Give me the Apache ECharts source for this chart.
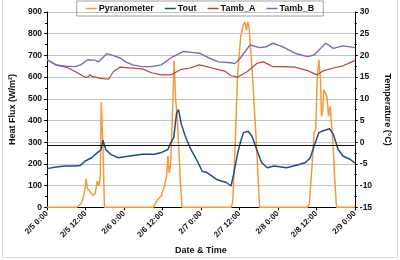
<!DOCTYPE html>
<html>
<head>
<meta charset="utf-8">
<title>Heat flux and temperature</title>
<script src="https://cdn.jsdelivr.net/npm/echarts@6/dist/echarts.min.js"></script>
<style>
  html, body { margin: 0; padding: 0; background: #fff; }
  #chart { width: 400px; height: 260px; }
</style>
</head>
<body>
<div id="chart"></div>
<script>
// hours since 2/5 0:00
var xTicks = ['2/5 0:00', '2/5 12:00', '2/6 0:00', '2/6 12:00', '2/7 0:00', '2/7 12:00', '2/8 0:00', '2/8 12:00', '2/9 0:00'];

// Pyranometer (W/m2)
var pyrHours = [0, 9.3, 10.5, 11.2, 11.9, 12.2, 12.6, 13.2, 14.2, 15.0, 15.65, 16.2, 16.6, 16.9, 17.4, 17.9,
  33.1, 34.6, 35.6, 36.6, 37.3, 37.7, 38.1, 38.5, 39.1, 39.6, 40.1, 40.6, 41.1, 41.6, 42.1,
  57.4, 57.9, 58.7, 59.4, 60.4, 61.2, 61.7, 62.2, 62.6, 63.0, 63.9, 64.6, 65.3, 66.3,
  81.2, 81.8, 82.8, 83.3, 83.8, 84.3, 84.8, 85.3, 85.6, 86.0, 86.3, 86.8, 87.3, 87.8, 88.3, 88.8, 89.3, 89.8, 90.3, 96];
var pyrValues = [0, 0, 15, 37, 90, 132, 85, 75, 55, 62, 121, 98, 144, 485, 297, 0,
  0, 37, 52, 98, 144, 236, 159, 190, 419, 675, 496, 419, 266, 113, 0,
  0, 23, 298, 603, 787, 840, 855, 815, 855, 830, 649, 470, 297, 0,
  0, 14, 220, 344, 358, 603, 680, 588, 419, 450, 542, 550, 511, 419, 465, 373, 266, 113, 0, 0];

// Tout (deg C)
var toutHours = [0, 2.8, 5.8, 8.8, 10.3, 11.8, 13.9, 15.7, 16.8, 17.4, 18.3, 19.8, 22.2, 25.8, 29.7, 33.5, 35.6, 37.7, 38.6, 39.5, 40.4, 41.0, 41.9, 43.1, 44.6, 46.9, 48.4, 49.9, 52.9, 55.9, 57.4, 58.3, 59.5, 60.4, 61.3, 62.7, 63.9, 65.4, 66.9, 68.7, 70.8, 74.7, 78.9, 80.6, 82.1, 83.3, 84.8, 85.7, 88.1, 89.3, 90.8, 92.3, 94.6, 96];
var toutValues = [-6.1, -5.75, -5.5, -5.5, -5.4, -4.4, -3.6, -2.4, -1.8, 0.45, -1.7, -2.8, -3.6, -3.2, -2.8, -2.8, -2.4, -1.7, -0.1, 1.0, 6.7, 7.5, 4.1, 1.4, -1.3, -4.4, -6.7, -7.0, -8.6, -9.3, -10.1, -7.0, -2.4, 0.2, 2.2, 2.5, 1.4, -1.7, -4.7, -5.9, -5.5, -5.9, -5.1, -4.7, -3.6, -0.9, 2.2, 2.5, 3.1, 1.8, -1.7, -3.2, -4.0, -4.8];

// Tamb_A (deg C)
var tambAHours = [0, 2.8, 6.7, 9.7, 11.8, 12.9, 13.3, 14.2, 16.8, 19.2, 20.7, 22.8, 25.8, 29.7, 32.6, 35.6, 38.6, 41.6, 44.6, 47.5, 51.5, 55.6, 57.4, 59.5, 62.5, 65.5, 67.5, 70.5, 73.4, 77.3, 81.2, 84.2, 86.3, 89.3, 92.3, 96];
var tambAValues = [19.0, 17.8, 17.1, 15.9, 15.0, 15.0, 15.6, 15.1, 14.7, 14.5, 16.3, 17.3, 17.1, 16.9, 16.0, 15.5, 15.5, 16.7, 17.1, 17.8, 17.1, 16.3, 15.3, 15.0, 16.3, 18.2, 18.5, 17.4, 17.4, 17.3, 16.5, 15.5, 16.5, 17.1, 17.6, 18.8];

// Tamb_B (deg C)
var tambBHours = [0, 2.8, 5.8, 8.8, 10.5, 12.7, 14.8, 16.0, 18.6, 20.5, 22.8, 24.5, 26.7, 29.5, 32.6, 35.6, 38.6, 42.5, 45.0, 47.5, 50.5, 53.5, 57.4, 58.6, 60.3, 63.3, 66.3, 68.5, 70.5, 73.4, 77.3, 81.2, 83.3, 86.9, 89.3, 92.3, 96];
var tambBValues = [19.0, 17.8, 17.5, 17.4, 17.8, 19.0, 18.9, 18.5, 20.4, 20.0, 19.4, 18.5, 17.8, 17.4, 17.4, 17.8, 19.4, 20.9, 20.7, 20.5, 19.4, 18.5, 18.3, 18.1, 19.4, 22.4, 21.8, 22.0, 22.8, 22.0, 20.5, 19.7, 20.1, 22.8, 21.6, 22.2, 21.8];

var refLine = 285;

function pairs(hours, values) {
  return hours.map(function (h, i) { return [h, values[i]]; });
}

var font = '"Liberation Sans", Arial, sans-serif';
var chart = echarts.init(document.getElementById('chart'));

chart.setOption({
  animation: false,
  backgroundColor: '#fff',
  graphic: [{
    type: 'rect',
    shape: { x: 2.5, y: -2, width: 395, height: 259.5 },
    style: { fill: 'none', stroke: '#d8d8d8', lineWidth: 1 },
    silent: true
  }],
  legend: {
    top: 1,
    left: 'center',
    icon: 'rect',
    itemWidth: 11,
    itemHeight: 1.5,
    itemGap: 11,
    padding: [3, 9],
    borderColor: '#a0a0a0',
    borderWidth: 1,
    textStyle: { fontFamily: font, fontWeight: 'bold', fontSize: 9, color: '#111', padding: [0, 0, 0, -3] },
    data: ['Pyranometer', 'Tout', 'Tamb_A', 'Tamb_B']
  },
  grid: { left: 40.5, right: 37.5, top: 12, bottom: 52 },
  xAxis: {
    type: 'value',
    min: 0,
    max: 96,
    interval: 12,
    name: 'Date & Time',
    nameLocation: 'middle',
    nameGap: 37,
    nameTextStyle: { fontFamily: font, fontWeight: 'bold', fontSize: 9, color: '#111' },
    axisLine: { lineStyle: { color: '#000', width: 1 } },
    axisTick: { lineStyle: { color: '#000' }, length: 3 },
    splitLine: { show: false },
    axisLabel: {
      rotate: 45,
      fontFamily: font, fontWeight: 'bold', fontSize: 8, color: '#111', margin: 5,
      formatter: function (v) { return xTicks[Math.round(v / 12)]; }
    }
  },
  yAxis: [{
    type: 'value',
    min: 0,
    max: 900,
    interval: 100,
    name: 'Heat Flux (W/m²)',
    nameLocation: 'middle',
    nameGap: 24,
    nameTextStyle: { fontFamily: font, fontWeight: 'bold', fontSize: 9, color: '#111' },
    axisLine: { show: true, lineStyle: { color: '#000', width: 1 } },
    axisTick: { show: true, lineStyle: { color: '#000' }, length: 3 },
    minorTick: { show: true, splitNumber: 2, length: 2, lineStyle: { color: '#000' } },
    splitLine: { show: true, lineStyle: { color: '#c4c4c4', width: 1 } },
    axisLabel: { fontFamily: font, fontWeight: 'bold', fontSize: 8.5, color: '#111', margin: 5 }
  }, {
    type: 'value',
    position: 'right',
    min: -15,
    max: 30,
    interval: 5,
    name: 'Temperature (°C)',
    nameLocation: 'middle',
    nameRotate: -90,
    nameGap: 22,
    nameTextStyle: { fontFamily: font, fontWeight: 'bold', fontSize: 9, color: '#111' },
    axisLine: { show: true, lineStyle: { color: '#000', width: 1 } },
    axisTick: { show: true, lineStyle: { color: '#000' }, length: 3 },
    minorTick: { show: true, splitNumber: 2, length: 2, lineStyle: { color: '#000' } },
    splitLine: { show: false },
    axisLabel: { fontFamily: font, fontWeight: 'bold', fontSize: 8.5, color: '#111', margin: 5 }
  }],
  series: [{
    name: 'Pyranometer',
    type: 'line',
    yAxisIndex: 0,
    symbol: 'none',
    color: '#f59a3c',
    lineStyle: { width: 1.5 },
    data: pairs(pyrHours, pyrValues),
    z: 3,
    markLine: {
      silent: true,
      symbol: 'none',
      label: { show: false },
      lineStyle: { color: '#111', width: 1, type: 'solid' },
      data: [{ yAxis: refLine }]
    }
  }, {
    name: 'Tout',
    type: 'line',
    yAxisIndex: 1,
    symbol: 'none',
    color: '#1f4e85',
    lineStyle: { width: 1.5 },
    data: pairs(toutHours, toutValues),
    z: 4
  }, {
    name: 'Tamb_A',
    type: 'line',
    yAxisIndex: 1,
    symbol: 'none',
    color: '#b8443b',
    lineStyle: { width: 1.2 },
    data: pairs(tambAHours, tambAValues)
  }, {
    name: 'Tamb_B',
    type: 'line',
    yAxisIndex: 1,
    symbol: 'none',
    color: '#7f68b8',
    lineStyle: { width: 1.4 },
    data: pairs(tambBHours, tambBValues)
  }]
});
</script>
</body>
</html>
